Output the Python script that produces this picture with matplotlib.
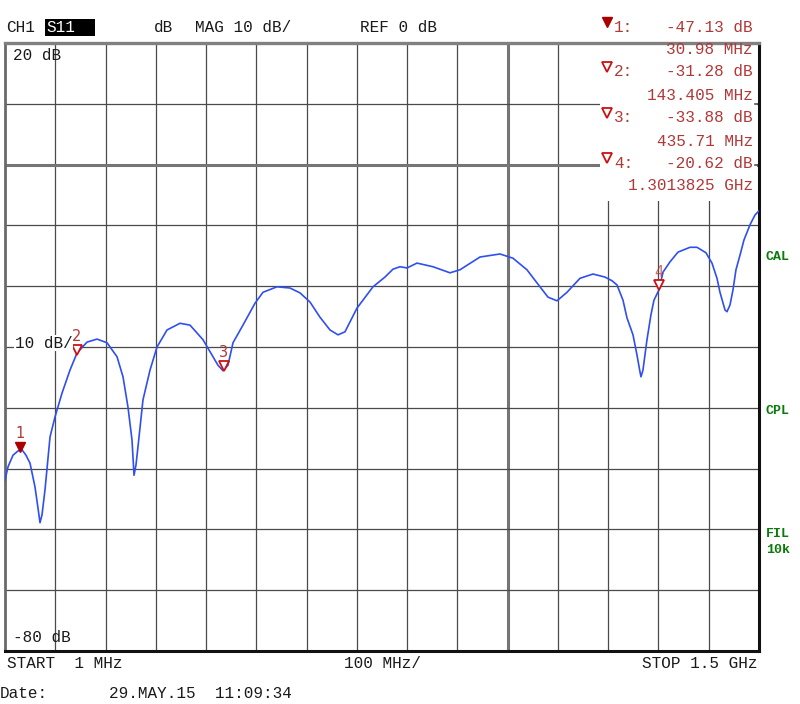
import numpy as np
import matplotlib
matplotlib.use("Agg")
import matplotlib.pyplot as plt
from matplotlib.patches import Rectangle
from matplotlib.lines import Line2D
from matplotlib.transforms import ScaledTranslation

# ---- data (frequency in MHz, S11 magnitude in dB) ----
freq_mhz = [1, 7.0, 16.9, 26.8, 34.8, 42.7, 50.7, 60.6, 66.6, 70.6, 74.6, 80.5, 90.5,
            100.4, 114.3, 130.2, 144.1, 164.0, 183.9, 203.8, 223.7, 235.6, 245.5, 253.5,
            257.5, 261.4, 265.4, 275.3, 289.3, 303.2, 323.1, 348.9, 368.8, 394.6, 414.5,
            424.4, 434.4, 444.3, 454.3, 474.1, 498.0, 513.9, 541.7, 567.6, 587.5, 607.3,
            627.2, 647.1, 663.0, 676.9, 700.8, 732.6, 756.4, 772.3, 786.3, 800.2, 820.1,
            851.9, 885.7, 905.5, 945.3, 985.1, 1010.9, 1038.7, 1064.6, 1080.5, 1098.4,
            1118.3, 1144.1, 1170.0, 1193.8, 1207.7, 1217.7, 1229.6, 1237.5, 1249.5,
            1257.4, 1263.4, 1265.4, 1269.3, 1277.3, 1285.2, 1291.2, 1301.2, 1309.1,
            1323.0, 1338.9, 1362.8, 1376.7, 1394.6, 1406.5, 1416.5, 1422.4, 1432.4,
            1436.3, 1442.3, 1448.3, 1454.2, 1462.2, 1470.1, 1482.1, 1492.0, 1500.0]
s11_db = [-51.9, -49.7, -47.8, -47.1, -46.9, -47.8, -49.1, -53.0, -56.5, -58.9, -57.6,
          -53.5, -44.8, -41.5, -37.6, -33.8, -31.0, -29.2, -28.7, -29.3, -31.6, -34.9,
          -39.9, -45.3, -51.1, -49.4, -46.4, -38.7, -33.8, -30.0, -27.2, -26.1, -26.4,
          -28.8, -31.6, -33.0, -33.9, -33.0, -29.3, -26.4, -22.8, -21.0, -20.1, -20.3,
          -21.1, -22.6, -25.1, -27.2, -28.0, -27.5, -23.6, -20.1, -18.5, -17.2, -16.8,
          -17.0, -16.2, -16.8, -17.8, -17.3, -15.2, -14.7, -15.4, -17.3, -20.1, -21.8,
          -22.4, -21.0, -18.7, -18.0, -18.5, -19.1, -19.8, -22.3, -25.2, -28.0, -31.3,
          -34.1, -34.9, -33.8, -28.8, -24.7, -22.3, -20.6, -17.7, -16.0, -14.4, -13.6,
          -13.6, -14.5, -16.2, -18.7, -21.0, -23.9, -24.2, -23.1, -20.6, -17.3, -14.9,
          -12.4, -9.9, -8.3, -7.6]

marker_ids = ["1", "2", "3", "4"]
marker_freq = [30.98, 143.405, 435.71, 1301.3825]
marker_db = [-47.13, -31.28, -33.88, -20.62]
marker_freq_txt = ["30.98 MHz", "143.405 MHz", "435.71 MHz", "1.3013825 GHz"]
marker_db_txt = ["-47.13 dB", "-31.28 dB", "-33.88 dB", "-20.62 dB"]

start_mhz, stop_mhz = 1, 1500
ref_db, top_db, bottom_db = 0, 20, -80
x_grid = np.linspace(start_mhz, stop_mhz, 16)
y_grid = np.arange(bottom_db, top_db + 1, 10)

MONO = "Liberation Mono"
W, H = 800, 704
fig = plt.figure(figsize=(8, 7.04), dpi=100)
fig.patch.set_facecolor("white")

def fx(x):
    return x / W

def fy(y):
    return 1 - y / H

ax = fig.add_axes([fx(5), fy(651), (759 - 5) / W, (651 - 43) / H])
ax.set_xlim(start_mhz, stop_mhz)
ax.set_ylim(bottom_db, top_db)
ax.set_xticks([])
ax.set_yticks([])

grid_c = "#4a4a4a"
for xv in x_grid[1:-1]:
    thick = abs(xv - x_grid[10]) < 1e-6
    ax.axvline(xv, color="#757575" if thick else grid_c,
               lw=2.2 if thick else 0.9, zorder=1)
for yv in y_grid[1:-1]:
    thick = yv == ref_db
    ax.axhline(yv, color="#757575" if thick else grid_c,
               lw=2.2 if thick else 0.9, zorder=1)

for side, col, lw in [("top", "#808080", 2.4), ("left", "#6a6a6a", 2.0),
                      ("bottom", "#111111", 2.2), ("right", "#111111", 2.2)]:
    ax.spines[side].set_color(col)
    ax.spines[side].set_linewidth(lw)

# white box of the marker readout covering the top-right of the grid
ax.add_patch(Rectangle((fx(600), fy(201)), fx(757) - fx(600), fy(40) - fy(201),
                       transform=fig.transFigure, facecolor="white",
                       edgecolor="none", zorder=2.4))
for yv in [10, 0]:
    ax.plot([stop_mhz - 8, stop_mhz], [yv, yv], color="#555555", lw=1.2, zorder=2.45,
            clip_on=False)

# trace
ax.plot(freq_mhz, s11_db, color="#2f4ff0", lw=1.2, zorder=3)

# markers on the trace
mk_col = "#cc1010"
lab_col = "#b03838"
off = ax.transData + ScaledTranslation(0, 3.3 / 72, fig.dpi_scale_trans)
off_lab = ax.transData + ScaledTranslation(0, 7.5 / 72, fig.dpi_scale_trans)
for i, (mid, f, d) in enumerate(zip(marker_ids, marker_freq, marker_db)):
    if i == 0:
        ax.plot([f], [d], marker="v", ms=7, color="#aa0000", mec="#aa0000",
                transform=off, zorder=4, clip_on=False)
    else:
        ax.plot([f], [d], marker="v", ms=7, mfc="white", mec=mk_col, mew=1.3,
                transform=off, zorder=4, clip_on=False)
    ax.text(f, d, mid, transform=off_lab, ha="center", va="bottom",
            fontsize=10.5, color=lab_col, family="DejaVu Sans", zorder=4,
            alpha=0.7 if i == 3 else 1)

# ---- header ----
hdr = dict(family=MONO, fontsize=11.5, color="#1a1a1a", va="center")
fig.text(fx(6), fy(28), "CH1", **hdr)
fig.add_artist(Rectangle((fx(45), fy(36)), fx(95) - fx(45), fy(19) - fy(36),
                         transform=fig.transFigure, facecolor="black", edgecolor="none"))
fig.text(fx(46), fy(28), "S11", family=MONO, fontsize=11.5, color="white", va="center")
fig.text(fx(154), fy(28), "dB", **hdr)
fig.text(fx(195), fy(28), "MAG 10 dB/", **hdr)
fig.text(fx(360), fy(28), "REF 0 dB", **hdr)

# in-grid labels
fig.text(fx(13), fy(55), "20 dB", **hdr)
fig.text(fx(13), fy(638), "-80 dB", **hdr)
fig.text(fx(15), fy(343), "10 dB/", bbox=dict(facecolor="white", edgecolor="none",
                                              pad=0.5), **hdr)

# footer
fig.text(fx(7), fy(664), "START  1 MHz", **hdr)
fig.text(fx(383), fy(664), "100 MHz/", ha="center", **hdr)
fig.text(fx(758), fy(664), "STOP 1.5 GHz", ha="right", **hdr)
fig.text(fx(0), fy(694), "Date:", **hdr)
fig.text(fx(109), fy(694), "29.MAY.15  11:09:34", **hdr)

# marker readout
rd = dict(family=MONO, fontsize=11.5, color=lab_col, va="center")
row_y = [27, 72, 118, 163]
for i, (mid, dtxt, ftxt) in enumerate(zip(marker_ids, marker_db_txt, marker_freq_txt)):
    y0 = row_y[i]
    if i == 0:
        fig.add_artist(Line2D([fx(607)], [fy(y0 - 5)], marker="v", ms=7,
                              color="#aa0000", transform=fig.transFigure))
    else:
        fig.add_artist(Line2D([fx(607)], [fy(y0 - 5)], marker="v", ms=7,
                              mfc="white", mec=mk_col, mew=1.3,
                              transform=fig.transFigure))
    fig.text(fx(614), fy(y0), mid + ":", **rd)
    fig.text(fx(753), fy(y0), dtxt, ha="right", **rd)
    fig.text(fx(753), fy(y0 + 23), ftxt, ha="right", **rd)

# status labels on the right
st = dict(family=MONO, fontsize=9.5, color="#0a7a0a", weight="bold", va="center")
fig.text(fx(766), fy(257), "CAL", **st)
fig.text(fx(766), fy(411), "CPL", **st)
fig.text(fx(766), fy(534), "FIL", **st)
fig.text(fx(766), fy(550), "10k", **st)

fig.savefig("out.png", dpi=100, facecolor="white")
